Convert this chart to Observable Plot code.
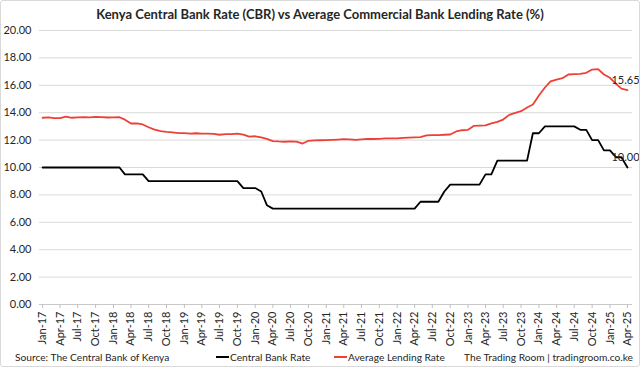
<!DOCTYPE html>
<html>
<head>
<meta charset="utf-8">
<script src="https://cdn.jsdelivr.net/npm/d3@7"></script>
<script src="https://cdn.jsdelivr.net/npm/@observablehq/plot@0.6"></script>
<style>
  body { margin: 0; background: #fff; }
  #wrap { position: relative; width: 640px; height: 367px; font-family: Lato, "Open Sans", sans-serif; color: #262626; overflow: hidden; }
  #frame { position: absolute; left: 0; top: 0; width: 638px; height: 365px; border: 1px solid #d9d9d9; border-radius: 3px; pointer-events: none; }
  #title { position: absolute; top: 6px; left: 0; width: 640px; text-align: center; font-weight: bold; font-size: 13px; line-height: 16px; }
  #chart { position: absolute; top: 24px; left: 0; }
  #footer { position: absolute; top: 349px; left: 0; width: 640px; height: 16px; font-size: 10.2px; line-height: 16px; }
  #footer span { position: absolute; top: 0; white-space: nowrap; }
  .sw { display: inline-block; width: 13px; height: 2px; vertical-align: middle; margin-right: 1px; position: relative; top: -1px; }
</style>
</head>
<body>
<div id="wrap">
  <div id="title">Kenya Central Bank Rate (CBR) vs Average Commercial Bank Lending Rate (%)</div>
  <div id="chart"></div>
  <div id="footer">
    <span id="src" style="left:15px"></span>
    <span style="left:216px"><i class="sw" style="background:#000"></i><b id="lg0" style="font-weight:normal"></b></span>
    <span style="left:334px"><i class="sw" style="background:#ee4035"></i><b id="lg1" style="font-weight:normal"></b></span>
    <span id="brand" style="right:7px"></span>
  </div>
  <div id="frame"></div>
</div>
<script>
// Monthly observations, Jan-2017 .. Apr-2025
const startMonth = "2017-01";
const endMonth = "2025-04";

const centralBankRate = [
  // 2017
  10, 10, 10, 10, 10, 10, 10, 10, 10, 10, 10, 10,
  // 2018
  10, 10, 9.5, 9.5, 9.5, 9.5, 9, 9, 9, 9, 9, 9,
  // 2019
  9, 9, 9, 9, 9, 9, 9, 9, 9, 9, 8.5, 8.5,
  // 2020
  8.5, 8.25, 7.25, 7, 7, 7, 7, 7, 7, 7, 7, 7,
  // 2021
  7, 7, 7, 7, 7, 7, 7, 7, 7, 7, 7, 7,
  // 2022
  7, 7, 7, 7, 7.5, 7.5, 7.5, 7.5, 8.25, 8.75, 8.75, 8.75,
  // 2023
  8.75, 8.75, 8.75, 9.5, 9.5, 10.5, 10.5, 10.5, 10.5, 10.5, 10.5, 12.5,
  // 2024
  12.5, 13, 13, 13, 13, 13, 13, 12.75, 12.75, 12, 12, 11.25,
  // 2025
  11.25, 10.75, 10.75, 10.0
];

const averageLendingRate = [
  // 2017
  13.63, 13.66, 13.60, 13.61, 13.72, 13.63, 13.66, 13.68, 13.66, 13.70, 13.68, 13.65,
  // 2018
  13.66, 13.67, 13.49, 13.21, 13.22, 13.14, 12.94, 12.76, 12.66, 12.60, 12.57, 12.51,
  // 2019
  12.51, 12.47, 12.50, 12.47, 12.47, 12.46, 12.39, 12.44, 12.44, 12.47, 12.40, 12.26,
  // 2020
  12.28, 12.20, 12.09, 11.93, 11.90, 11.88, 11.90, 11.89, 11.75, 11.95, 11.98, 11.99,
  // 2021
  12.00, 12.02, 12.04, 12.07, 12.06, 12.02, 12.06, 12.09, 12.08, 12.09, 12.12, 12.12,
  // 2022
  12.12, 12.16, 12.18, 12.20, 12.22, 12.34, 12.36, 12.36, 12.39, 12.41, 12.63, 12.72,
  // 2023
  12.75, 13.04, 13.06, 13.07, 13.22, 13.33, 13.50, 13.84, 13.98, 14.11, 14.38, 14.60,
  // 2024
  15.25, 15.84, 16.28, 16.42, 16.52, 16.79, 16.81, 16.84, 16.91, 17.15, 17.18, 16.79,
  // 2025
  16.55, 16.10, 15.76, 15.65
];

const yTicks = [0, 2, 4, 6, 8, 10, 12, 14, 16, 18, 20];
const seriesNames = ["Central Bank Rate", "Average Lending Rate"];
const seriesColors = ["#000000", "#ee4035"];
const sourceText = "Source: The Central Bank of Kenya";
const brandText = "The Trading Room | tradingroom.co.ke";

document.getElementById("src").textContent = sourceText;
document.getElementById("brand").textContent = brandText;
document.getElementById("lg0").textContent = seriesNames[0];
document.getElementById("lg1").textContent = seriesNames[1];

const parseMonth = d3.utcParse("%Y-%m");
const months = d3.utcMonth.range(parseMonth(startMonth), d3.utcMonth.offset(parseMonth(endMonth), 1));
const xTicks = d3.utcMonth.every(3).range(parseMonth(startMonth), d3.utcMonth.offset(parseMonth(endMonth), 1));
const fmtMonth = d3.utcFormat("%b-%y");

const rows = [];
months.forEach((m, i) => {
  rows.push({date: m, value: centralBankRate[i], series: seriesNames[0]});
  rows.push({date: m, value: averageLendingRate[i], series: seriesNames[1]});
});
const lastRows = seriesNames.map(s => rows.filter(r => r.series === s).at(-1));

const chart = Plot.plot({
  width: 640,
  height: 326,
  marginTop: 6,
  marginBottom: 46,
  marginLeft: 39,
  marginRight: 8,
  style: {fontFamily: 'Lato, "Open Sans", sans-serif', fontSize: "11px", color: "#262626", background: "transparent", overflow: "visible"},
  x: {type: "utc", domain: [new Date(Date.UTC(2016, 11, 16)), new Date(Date.UTC(2025, 3, 27))], label: null},
  y: {domain: [0, 20], label: null},
  color: {domain: seriesNames, range: seriesColors},
  marks: [
    Plot.gridY(yTicks, {stroke: "#d9d9d9", strokeOpacity: 1}),
    Plot.ruleY([0], {stroke: "#c8c8c8"}),
    Plot.axisY(yTicks, {tickSize: 0, tickPadding: 8, tickFormat: d => d.toFixed(2), fontSize: 11, label: null}),
    Plot.axisX(xTicks, {tickSize: 4, tickPadding: 3, tickRotate: -90, tickFormat: fmtMonth, stroke: "#bfbfbf", fontSize: 11, label: null}),
    Plot.line(rows, {x: "date", y: "value", z: "series", stroke: "series", strokeWidth: 1.8, curve: "linear"}),
    Plot.text(lastRows, {x: "date", y: "value", text: d => d.value.toFixed(2), dy: -10, dx: -2, fontSize: 11, fill: "#262626"})
  ]
});
document.getElementById("chart").appendChild(chart);
</script>
</body>
</html>
